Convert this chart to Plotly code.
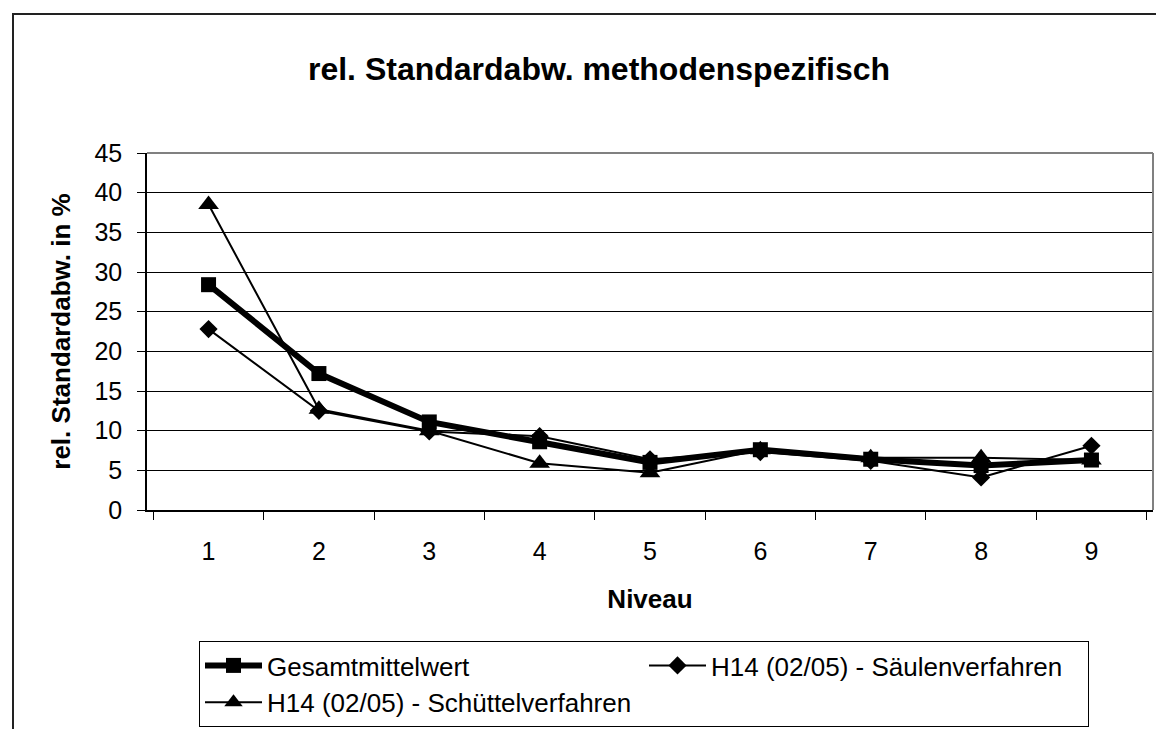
import plotly.graph_objects as go

niveau = ["1", "2", "3", "4", "5", "6", "7", "8", "9"]
gesamt = [28.4, 17.2, 11.1, 8.6, 6.0, 7.6, 6.4, 5.6, 6.3]
saeulen = [22.8, 12.5, 9.9, 9.3, 6.4, 7.3, 6.2, 4.1, 8.1]
schuettel = [38.5, 12.7, 10.0, 5.9, 4.7, 7.6, 6.6, 6.6, 6.3]
y_ticks = [0, 5, 10, 15, 20, 25, 30, 35, 40, 45]

FONT = "Liberation Sans, Arial, sans-serif"

fig = go.Figure()

fig.add_trace(go.Scatter(
    x=niveau, y=gesamt, name="Gesamtmittelwert", mode="lines+markers",
    line=dict(color="black", width=6),
    marker=dict(symbol="square", size=15, color="black"),
))
fig.add_trace(go.Scatter(
    x=niveau, y=saeulen, name="H14 (02/05) - Säulenverfahren", mode="lines+markers",
    line=dict(color="black", width=2),
    marker=dict(symbol="diamond", size=14, color="black"),
))
fig.add_trace(go.Scatter(
    x=niveau, y=schuettel, name="H14 (02/05) - Schüttelverfahren", mode="lines+markers",
    line=dict(color="black", width=2),
    marker=dict(symbol="triangle-up", size=18, color="black"),
))

fig.update_layout(
    width=1164, height=729,
    margin=dict(l=139, r=19, t=145, b=227),
    paper_bgcolor="white", plot_bgcolor="white",
    font=dict(family=FONT, size=26, color="black"),
    title=dict(
        text="<b>rel. Standardabw. methodenspezifisch</b>",
        font=dict(size=32, color="black"),
        x=591 / 1164, xanchor="center", xref="container",
        y=1 - 61 / 729, yanchor="middle", yref="container",
    ),
    xaxis=dict(
        type="category", tickson="boundaries",
        ticks="outside", ticklen=8, tickcolor="black",
        showline=True, linecolor="black", linewidth=1.5,
        showgrid=False, tickfont=dict(size=25),
        ticklabelstandoff=18,
        title=dict(text="<b>Niveau</b>", font=dict(size=26), standoff=26),
        automargin=False,
    ),
    yaxis=dict(
        range=[0, 45], tickvals=y_ticks,
        ticks="outside", ticklen=8, tickcolor="black",
        showline=True, linecolor="black", linewidth=1.5,
        showgrid=True, gridcolor="black", gridwidth=1,
        zeroline=False, tickfont=dict(size=25),
        ticklabelstandoff=10,
        title=dict(text="<b>rel. Standardabw. in %</b>", font=dict(size=26), standoff=16),
        automargin=False,
    ),
    legend=dict(
        orientation="h",
        xref="container", yref="container",
        x=191 / 1164, xanchor="left",
        y=1 - 633 / 729, yanchor="top",
        bgcolor="white", bordercolor="black", borderwidth=1,
        font=dict(size=26),
        entrywidthmode="pixels", entrywidth=372,
        itemwidth=57,
        tracegroupgap=0,
    ),
    shapes=[
        # grey plot-area frame on top and right
        dict(type="line", xref="paper", yref="paper", x0=0, x1=1, y0=1, y1=1,
             line=dict(color="#808080", width=2)),
        dict(type="line", xref="paper", yref="paper", x0=1, x1=1, y0=0, y1=1,
             line=dict(color="#808080", width=2)),
        # chart-area border (top and left visible)
        dict(type="rect", xref="paper", yref="paper",
             x0=-134 / 1006, x1=1.1, y0=-0.9, y1=1 + 139 / 357,
             line=dict(color="#222222", width=2)),
    ],
)

fig.write_html("out.html")
